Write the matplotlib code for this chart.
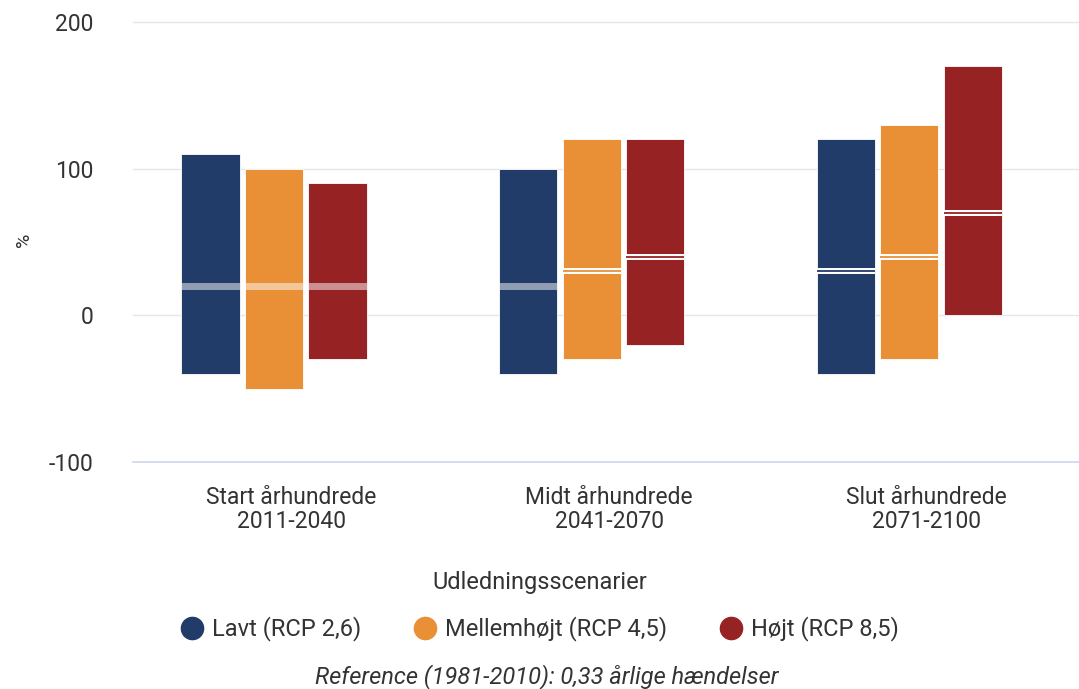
import numpy as np
import matplotlib.pyplot as plt
import matplotlib.patheffects as pe
from matplotlib.lines import Line2D

plt.rcParams['font.family'] = ['Roboto', 'DejaVu Sans']

# data
categories = ['Start århundrede\n2011-2040', 'Midt århundrede\n2041-2070', 'Slut århundrede\n2071-2100']
series = ['Lavt (RCP 2,6)', 'Mellemhøjt (RCP 4,5)', 'Højt (RCP 8,5)']
low = [[-40, -40, -40], [-50, -30, -30], [-30, -20, 0]]
high = [[110, 100, 120], [100, 120, 130], [90, 120, 170]]
median = [[20, 20, 30], [20, 30, 40], [20, 40, 70]]
colors = ['#213c69', '#e99036', '#972224']
text_col = '#333333'

fig = plt.figure(figsize=(10.79, 6.89), dpi=100)
ax = fig.add_axes([0.123, 0.3295, 0.877, 0.6385])

x = np.arange(len(categories))
offsets = [-0.255, -0.055, 0.145]
width = 0.183

for i, name in enumerate(series):
    lo = np.array(low[i])
    hi = np.array(high[i])
    ax.bar(x + offsets[i], hi - lo, bottom=lo, width=width, color=colors[i],
           edgecolor='white', linewidth=0.6, zorder=3, label=name)
    for j in range(len(categories)):
        xs = [x[j] + offsets[i] - width / 2, x[j] + offsets[i] + width / 2]
        m = median[i][j]
        if m == 20:
            ax.plot(xs, [m, m], color='white', alpha=0.5, lw=5, zorder=4,
                    solid_capstyle='butt')
        else:
            ax.plot(xs, [m, m], color=colors[i], lw=1.3, zorder=5,
                    solid_capstyle='butt',
                    path_effects=[pe.Stroke(linewidth=4.3, foreground='white'), pe.Normal()])

ax.set_xlim(-0.5, 2.48)
ax.set_ylim(-100, 200)
ax.set_yticks([-100, 0, 100, 200])
ax.set_yticklabels(['-100', '0', '100', '200'])
for v in [0, 100, 200]:
    ax.axhline(v, color='#e6e6e6', lw=1, zorder=1, clip_on=False)
ax.axhline(-100, color='#ccd6eb', lw=1.2, zorder=2, clip_on=False)
for s in ax.spines.values():
    s.set_visible(False)
ax.tick_params(axis='both', length=0, labelsize=16.5, colors=text_col)
ax.tick_params(axis='y', pad=28)
ax.tick_params(axis='x', pad=17)
ax.set_xticks(x)
ax.set_xticklabels(categories, fontsize=16.5, color=text_col, linespacing=1.1)
ax.set_ylabel('%', fontsize=14, color=text_col)
ax.yaxis.set_label_coords(-0.105, 0.505)

handles = [Line2D([], [], marker='o', ls='', markersize=16, color=c) for c in colors]
leg = fig.legend(handles, series, loc='center', bbox_to_anchor=(0.5, 0.12), ncol=3,
                 frameon=False, fontsize=17, title='Udledningsscenarier',
                 title_fontsize=17, handlelength=1.0, handletextpad=0.35,
                 columnspacing=2.2, borderpad=0.2)
leg._legend_box.sep = 16
for t in leg.get_texts():
    t.set_color(text_col)
leg.get_title().set_color(text_col)

fig.text(0.507, 0.018, 'Reference (1981-2010): 0,33 årlige hændelser', ha='center',
         va='center', fontsize=17, style='italic', color=text_col)

fig.savefig('out.png', dpi=100)
